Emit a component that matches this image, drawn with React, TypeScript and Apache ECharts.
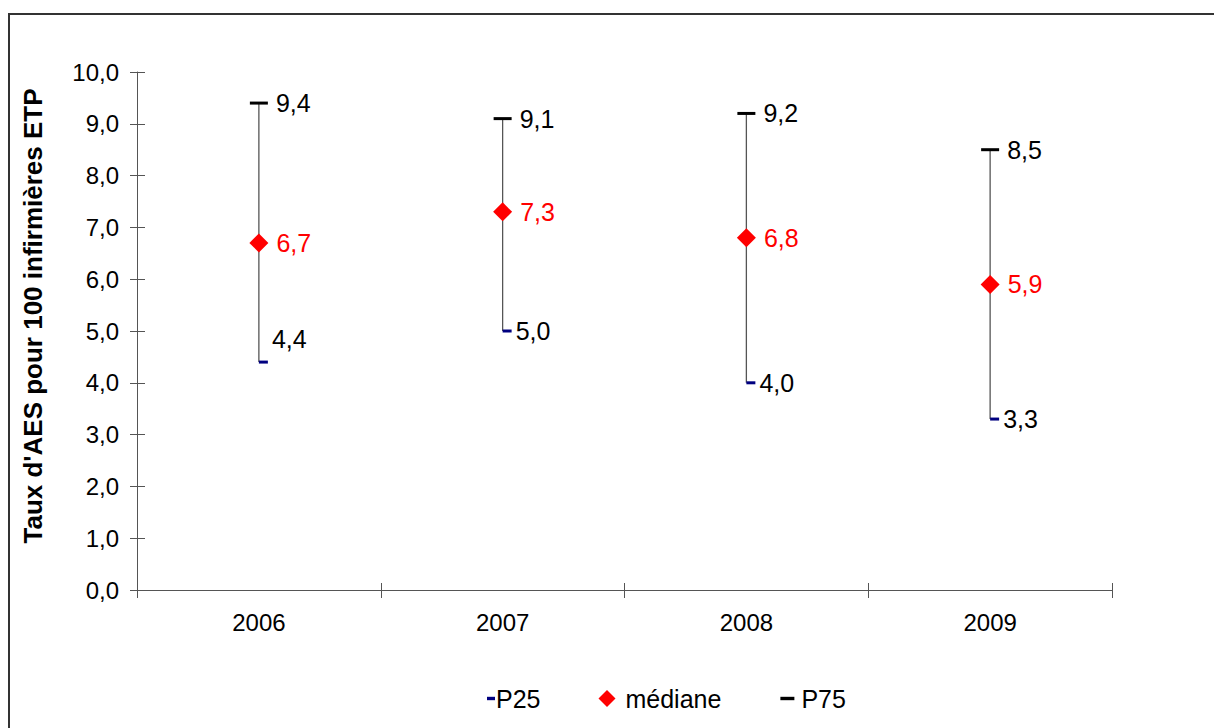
import React, { useEffect, useRef } from "react";
import * as echarts from "echarts";

const years = ["2006", "2007", "2008", "2009"];
const p25 = [4.4, 5.0, 4.0, 3.3];
const mediane = [6.7, 7.3, 6.8, 5.9];
const p75 = [9.4, 9.1, 9.2, 8.5];
const yTicks = { min: 0, max: 10, interval: 1 };
const yTitle = "Taux d'AES pour 100 infirmières ETP";

const FONT = "'Liberation Sans', Arial, sans-serif";
const fmt = (v: number) => v.toFixed(1).replace(".", ",");

export default function App() {
  const ref = useRef<HTMLDivElement>(null);
  useEffect(() => {
    if (!ref.current) return;
    const chart = echarts.init(ref.current, null, { renderer: "svg" });
    const option: any = {
      animation: false,
      backgroundColor: "#fff",
      textStyle: { fontFamily: FONT },
      grid: { left: 137, top: 72, right: 102, bottom: 138, containLabel: false },
      graphic: [
        {
          type: "rect",
          shape: { x: 9, y: 14, width: 1220, height: 730 },
          style: { fill: "none", stroke: "#333", lineWidth: 2 },
          silent: true,
        },
        {
          type: "text",
          x: 33,
          y: 316,
          rotation: Math.PI / 2,
          style: {
            text: yTitle,
            fontFamily: FONT,
            fontSize: 26,
            fontWeight: "bold",
            fill: "#000",
            align: "center",
            verticalAlign: "middle",
          },
          silent: true,
        },
      ],
      legend: {
        top: 681,
        left: 473,
        itemGap: 58,
        itemWidth: 17,
        itemHeight: 17,
        textStyle: { fontFamily: FONT, fontSize: 25, color: "#000", padding: [0, 0, 0, -4] },
        data: [
          {
            name: "P25",
            icon: "path://M0,0 M17,17 M9,6.8 L17,6.8 L17,10.2 L9,10.2 Z",
            itemStyle: { opacity: 1 },
          },
          {
            name: "médiane",
            icon: "diamond",
            itemStyle: { opacity: 1 },
            textStyle: { padding: [0, 0, 0, 5] },
          },
          {
            name: "P75",
            icon: "path://M0,0 M17,17 M1,6.8 L15,6.8 L15,10.2 L1,10.2 Z",
            itemStyle: { opacity: 1 },
            textStyle: { padding: [0, 0, 0, 0] },
          },
        ],
      },
      xAxis: [
        {
          type: "category",
          data: years,
          boundaryGap: true,
          axisLine: { lineStyle: { color: "#555", width: 1 } },
          axisTick: { show: true, inside: false, length: 8, interval: 0, lineStyle: { color: "#555" } },
          axisLabel: { fontFamily: FONT, fontSize: 24, color: "#000", margin: 20 },
          splitLine: { show: false },
        },
        {
          type: "category",
          data: years,
          position: "bottom",
          boundaryGap: true,
          axisLine: { show: false },
          axisTick: { show: true, inside: true, length: 7, interval: 0, lineStyle: { color: "#555" } },
          axisLabel: { show: false },
          splitLine: { show: false },
        },
      ],
      yAxis: [
        {
          type: "value",
          min: yTicks.min,
          max: yTicks.max,
          interval: yTicks.interval,
          axisLine: { show: true, lineStyle: { color: "#555", width: 1 } },
          axisTick: { show: true, inside: false, length: 7, lineStyle: { color: "#555" } },
          axisLabel: { fontFamily: FONT, fontSize: 24, color: "#000", margin: 18, formatter: (v: number) => fmt(v) },
          splitLine: { show: false },
        },
        {
          type: "value",
          min: yTicks.min,
          max: yTicks.max,
          interval: yTicks.interval,
          position: "left",
          axisLine: { show: false },
          axisTick: { show: true, inside: true, length: 8, lineStyle: { color: "#555" } },
          axisLabel: { show: false },
          splitLine: { show: false },
        },
      ],
      series: [
        {
          name: "range",
          type: "custom",
          silent: true,
          z: 1,
          data: years.map((_, i) => [i, p25[i], p75[i]]),
          encode: { x: 0, y: [1, 2] },
          renderItem: (params: any, api: any) => {
            const lo = api.coord([api.value(0), api.value(1)]);
            const hi = api.coord([api.value(0), api.value(2)]);
            return {
              type: "line",
              shape: { x1: lo[0], y1: lo[1], x2: hi[0], y2: hi[1] },
              style: { stroke: "#555", lineWidth: 1.3 },
            };
          },
        },
        {
          name: "P25",
          type: "scatter",
          z: 3,
          symbol: "rect",
          symbolSize: [9, 3],
          symbolOffset: [4.5, 0],
          itemStyle: { color: "#000080", opacity: 1 },
          label: {
            show: true,
            position: "right",
            distance: 4,
            fontFamily: FONT,
            fontSize: 25,
            color: "#000",
            formatter: (p: any) => fmt(p.value),
          },
          data: p25.map((v, i) =>
            i === 0 ? { value: v, label: { offset: [0, -23] } } : { value: v }
          ),
        },
        {
          name: "médiane",
          type: "scatter",
          z: 4,
          symbol: "diamond",
          symbolSize: 19,
          itemStyle: { color: "#ff0000", opacity: 1 },
          label: {
            show: true,
            position: "right",
            distance: 8,
            fontFamily: FONT,
            fontSize: 25,
            color: "#ff0000",
            formatter: (p: any) => fmt(p.value),
          },
          data: mediane,
        },
        {
          name: "P75",
          type: "scatter",
          z: 3,
          symbol: "rect",
          symbolSize: [18, 3],
          itemStyle: { color: "#000", opacity: 1 },
          label: {
            show: true,
            position: "right",
            distance: 8,
            fontFamily: FONT,
            fontSize: 25,
            color: "#000",
            formatter: (p: any) => fmt(p.value),
          },
          data: p75,
        },
      ],
    };
    chart.setOption(option);
    return () => chart.dispose();
  }, []);
  return (
    <div
      ref={ref}
      style={{ position: "absolute", left: 0, top: 0, width: 1214, height: 728 }}
    />
  );
}
